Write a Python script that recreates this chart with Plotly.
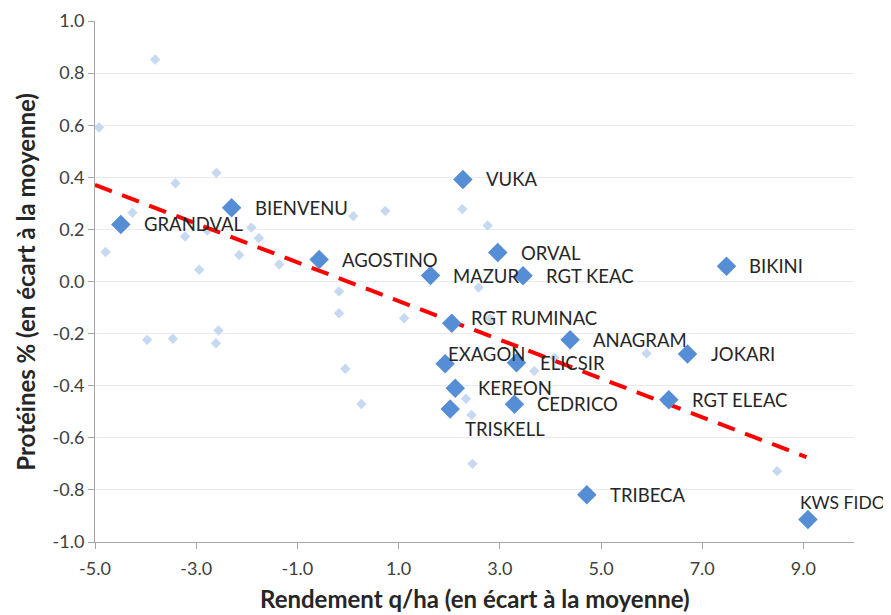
import plotly.graph_objects as go

# Labelled varieties (dark markers)
names = ["GRANDVAL", "BIENVENU", "AGOSTINO", "MAZUR", "VUKA", "ORVAL", "RGT KEAC",
         "BIKINI", "RGT RUMINAC", "ANAGRAM", "JOKARI", "EXAGON", "ELICSIR", "KEREON",
         "CEDRICO", "TRISKELL", "RGT ELEAC", "TRIBECA", "KWS FIDO"]
rendement = [-4.49, -2.30, -0.57, 1.63, 2.27, 2.96, 3.46,
             7.48, 2.05, 4.39, 6.71, 1.92, 3.33, 2.12,
             3.29, 2.02, 6.34, 4.72, 9.09]
proteines = [0.219, 0.283, 0.084, 0.023, 0.392, 0.111, 0.022,
             0.059, -0.160, -0.224, -0.278, -0.316, -0.312, -0.410,
             -0.471, -0.489, -0.454, -0.819, -0.914]

# Other varieties (light markers)
autres_x = [-3.81, -4.92, -2.60, -3.41, -4.26, -4.79, -3.22, -2.78, -2.94, -1.91,
            -1.76, -2.15, -1.36, -3.97, -3.46, -2.56, -2.61, 0.105, 0.737, 2.26,
            -0.178, -0.178, 1.11, -0.053, 0.263, 2.76, 2.58, 2.81, 4.08, 3.68,
            2.33, 2.44, 2.46, 5.90, 8.48]
autres_y = [0.852, 0.591, 0.417, 0.377, 0.264, 0.113, 0.173, 0.196, 0.045, 0.207,
            0.166, 0.102, 0.065, -0.224, -0.220, -0.188, -0.237, 0.251, 0.271, 0.278,
            -0.038, -0.122, -0.141, -0.335, -0.470, 0.215, -0.023, -0.142, -0.293, -0.344,
            -0.450, -0.512, -0.700, -0.276, -0.728]

# Linear trend end points
trend_x = [-5.0, 9.06]
trend_y = [0.371, -0.674]

x_ticks = [-5.0, -3.0, -1.0, 1.0, 3.0, 5.0, 7.0, 9.0]
y_ticks = [-1.0, -0.8, -0.6, -0.4, -0.2, 0.0, 0.2, 0.4, 0.6, 0.8, 1.0]

# label placement style (xanchor, xshift, yshift)
label_style = {
    "EXAGON": ("left", 1, 10),
    "TRISKELL": ("left", 13, -20),
    "KWS FIDO": ("left", -10, 17),
    "RGT RUMINAC": ("left", 17, 5),
}

FONT = "Lato, 'Open Sans', sans-serif"

fig = go.Figure()
fig.add_trace(go.Scatter(
    x=autres_x, y=autres_y, mode="markers",
    marker=dict(symbol="diamond", size=8, color="#C6D9F1"),
    hoverinfo="x+y", showlegend=False))
fig.add_trace(go.Scatter(
    x=trend_x, y=trend_y, mode="lines",
    line=dict(color="#FF0000", width=4, dash="18px,11px"),
    hoverinfo="skip", showlegend=False))
fig.add_trace(go.Scatter(
    x=rendement, y=proteines, mode="markers",
    marker=dict(symbol="diamond", size=15, color="#558ED5"),
    text=names, hoverinfo="text+x+y", showlegend=False))

for n, xv, yv in zip(names, rendement, proteines):
    anc, xs, ys = label_style.get(n, ("left", 21, 0))
    fsize = 17.5 if n == "KWS FIDO" else 18.5
    fig.add_annotation(x=xv, y=yv, text=n, showarrow=False, xanchor=anc,
                       yanchor="middle", xshift=xs, yshift=ys,
                       font=dict(family=FONT, size=fsize, color="#262626"))

fig.add_annotation(text="Rendement q/ha (en écart à la moyenne)", xref="paper", yref="paper",
                   x=0.5, y=-0.109, xanchor="center", yanchor="middle", showarrow=False,
                   font=dict(family=FONT, size=24, color="#262626", weight="bold"))
fig.add_annotation(text="Protéines % (en écart à la moyenne)", xref="paper", yref="paper",
                   x=-0.092, y=0.5, xanchor="center", yanchor="middle", showarrow=False,
                   textangle=-90,
                   font=dict(family=FONT, size=24, color="#262626", weight="bold"))

fig.update_layout(
    width=883, height=607,
    margin=dict(l=87, r=37, t=13, b=73),
    paper_bgcolor="white", plot_bgcolor="white",
    font=dict(family=FONT, size=18, color="#404040"),
    xaxis=dict(range=[-5, 10], tickvals=x_ticks,
               ticktext=[f"{v:.1f}" for v in x_ticks],
               showgrid=False, zeroline=False, showline=True, linecolor="#A6A6A6",
               linewidth=1, ticks="outside", ticklen=6, tickcolor="#A6A6A6",
               ticklabelstandoff=4,
               tickfont=dict(family=FONT, size=18, color="#404040"), automargin=False),
    yaxis=dict(range=[-1, 1], tickvals=y_ticks,
               ticktext=[f"{v:.1f}" for v in y_ticks],
               showgrid=True, gridcolor="#EBEBEB", gridwidth=1, zeroline=False,
               showline=True, linecolor="#A6A6A6", linewidth=1,
               ticks="outside", ticklen=6, tickcolor="#A6A6A6",
               tickfont=dict(family=FONT, size=18, color="#404040"), automargin=False),
)

fig.write_html("out.html")
